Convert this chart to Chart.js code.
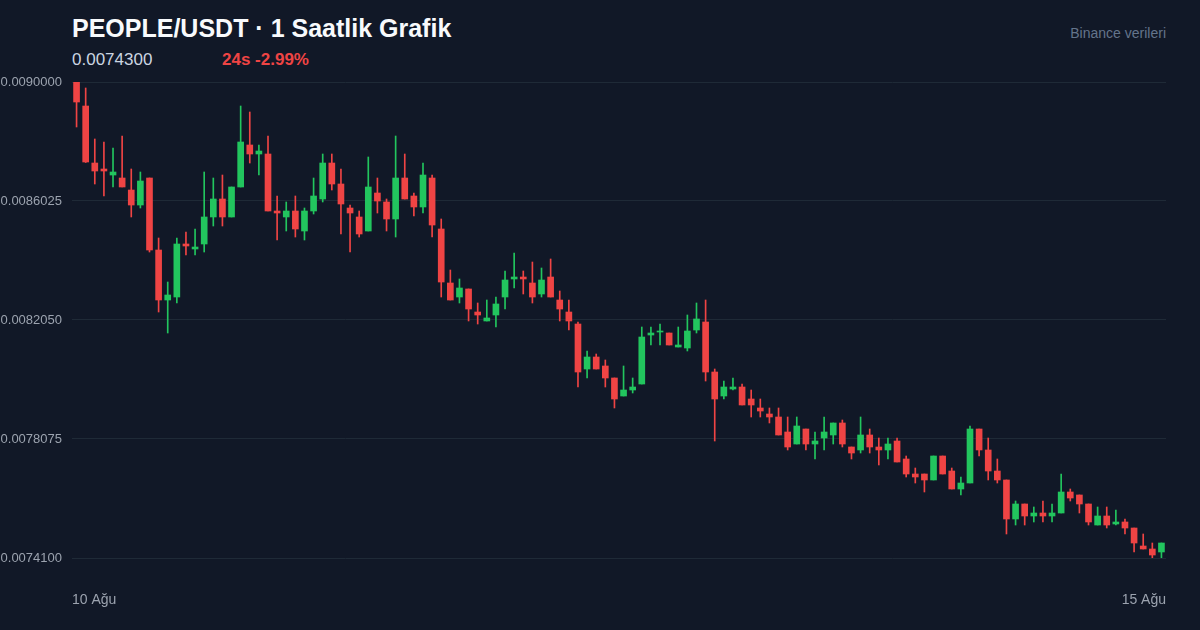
<!DOCTYPE html>
<html>
<head>
<meta charset="utf-8">
<script src="https://cdn.jsdelivr.net/npm/chart.js@4.4.1/dist/chart.umd.min.js"></script>
<style>
  html, body { margin: 0; padding: 0; background: #111827; }
  body { width: 1200px; height: 630px; position: relative; overflow: hidden;
         font-family: "Liberation Sans", Arial, Helvetica, sans-serif; }
  .title { position: absolute; left: 72px; top: 16px; font-size: 25px; line-height: 25px;
           font-weight: bold; color: #f8fafc; white-space: nowrap; }
  .price { position: absolute; left: 72px; top: 51px; font-size: 17px; line-height: 17px;
           color: #cbd5e1; white-space: nowrap; }
  .change { position: absolute; left: 222px; top: 51px; font-size: 17px; line-height: 17px;
            font-weight: bold; color: #ef4444; white-space: nowrap; }
  .source { position: absolute; right: 34px; top: 26px; font-size: 14px; line-height: 14px;
            color: #64748b; white-space: nowrap; }
  canvas { position: absolute; left: 0; top: 0; }
</style>
</head>
<body>
<div class="title">PEOPLE/USDT · 1 Saatlik Grafik</div>
<div class="price">0.0074300</div>
<div class="change">24s -2.99%</div>
<div class="source">Binance verileri</div>
<canvas id="candles" width="1200" height="630"></canvas>
<script>
// hourly candles, 10 Ağu -> 15 Ağu
const openP = [
  0.0090000, 0.0089198, 0.0087294, 0.0087094, 0.0086893, 0.0086793, 0.0086392, 0.0085891, 0.0086793, 0.0084388,
  0.0082718, 0.0082818, 0.0084589, 0.0084422, 0.0084589, 0.0085491, 0.0086092, 0.0085491, 0.0086493, 0.0087896,
  0.0087595, 0.0087595, 0.0085691, 0.0085491, 0.0085691, 0.0085023, 0.0085691, 0.0086092, 0.0087294, 0.0086593,
  0.0085791, 0.0085491, 0.0085023, 0.0086292, 0.0085992, 0.0085424, 0.0086793, 0.0086192, 0.0085825, 0.0086793,
  0.0085090, 0.0083286, 0.0082818, 0.0083086, 0.0082317, 0.0082017, 0.0082217, 0.0082818, 0.0083420, 0.0083486,
  0.0083286, 0.0082919, 0.0083486, 0.0082718, 0.0082317, 0.0081916, 0.0080413, 0.0080814, 0.0080514, 0.0080113,
  0.0079511, 0.0079712, 0.0079912, 0.0081549, 0.0081649, 0.0081616, 0.0081148, 0.0081115, 0.0081716, 0.0081983,
  0.0080313, 0.0079511, 0.0079745, 0.0079812, 0.0079411, 0.0079111, 0.0078910, 0.0078810, 0.0078309, 0.0077908,
  0.0078409, 0.0077908, 0.0078108, 0.0078209, 0.0078610, 0.0077808, 0.0077708, 0.0078209, 0.0077808, 0.0077708,
  0.0078008, 0.0077407, 0.0076906, 0.0076906, 0.0076706, 0.0077507, 0.0077006, 0.0076405, 0.0076605, 0.0078409,
  0.0077708, 0.0077006, 0.0076706, 0.0075403, 0.0075904, 0.0075503, 0.0075603, 0.0075503, 0.0075603, 0.0076305,
  0.0076205, 0.0075904, 0.0075202, 0.0075503, 0.0075236, 0.0075303, 0.0075102, 0.0074501, 0.0074401, 0.0074301
];
const highP = [
  0.0090000, 0.0089800, 0.0088096, 0.0087996, 0.0087795, 0.0088196, 0.0087094, 0.0086994, 0.0086793, 0.0084789,
  0.0083319, 0.0084789, 0.0084990, 0.0085090, 0.0086994, 0.0086793, 0.0086893, 0.0086493, 0.0089198, 0.0088998,
  0.0087896, 0.0088196, 0.0086192, 0.0085992, 0.0086192, 0.0085791, 0.0086793, 0.0087595, 0.0087595, 0.0087094,
  0.0085891, 0.0085691, 0.0087495, 0.0086793, 0.0086092, 0.0088196, 0.0087595, 0.0086292, 0.0087294, 0.0086893,
  0.0085424, 0.0083720, 0.0083420, 0.0083086, 0.0082618, 0.0082718, 0.0082818, 0.0083687, 0.0084288, 0.0083687,
  0.0083987, 0.0083787, 0.0084088, 0.0083019, 0.0082718, 0.0081983, 0.0081015, 0.0080914, 0.0080714, 0.0080113,
  0.0080514, 0.0080113, 0.0081816, 0.0081816, 0.0081916, 0.0081616, 0.0081816, 0.0082217, 0.0082618, 0.0082718,
  0.0080413, 0.0080012, 0.0080113, 0.0079912, 0.0079712, 0.0079411, 0.0079111, 0.0079111, 0.0078810, 0.0078810,
  0.0078409, 0.0078309, 0.0078810, 0.0078610, 0.0078710, 0.0077808, 0.0078810, 0.0078409, 0.0078108, 0.0078108,
  0.0078108, 0.0077507, 0.0077106, 0.0076906, 0.0077507, 0.0077507, 0.0077106, 0.0076806, 0.0078509, 0.0078409,
  0.0078108, 0.0077407, 0.0076706, 0.0076004, 0.0075904, 0.0075804, 0.0076004, 0.0075904, 0.0076906, 0.0076405,
  0.0076205, 0.0075904, 0.0075804, 0.0075804, 0.0075703, 0.0075403, 0.0075102, 0.0074902, 0.0074601, 0.0074601
];
const lowP = [
  0.0088497, 0.0087311, 0.0086593, 0.0086192, 0.0086493, 0.0086493, 0.0085491, 0.0085791, 0.0084321, 0.0082317,
  0.0081616, 0.0082618, 0.0084221, 0.0084221, 0.0084321, 0.0085190, 0.0085190, 0.0085491, 0.0086493, 0.0087294,
  0.0086893, 0.0085691, 0.0084722, 0.0085023, 0.0084822, 0.0084722, 0.0085591, 0.0085992, 0.0086392, 0.0084923,
  0.0084321, 0.0084822, 0.0085023, 0.0085624, 0.0085023, 0.0084822, 0.0086092, 0.0085524, 0.0085624, 0.0084822,
  0.0082818, 0.0082718, 0.0082618, 0.0082017, 0.0081916, 0.0082017, 0.0081816, 0.0082417, 0.0083119, 0.0082919,
  0.0082618, 0.0082818, 0.0082818, 0.0082017, 0.0081716, 0.0079812, 0.0080113, 0.0080413, 0.0079812, 0.0079111,
  0.0079511, 0.0079612, 0.0079912, 0.0081215, 0.0081215, 0.0081215, 0.0081148, 0.0081015, 0.0081616, 0.0080012,
  0.0078008, 0.0079411, 0.0079712, 0.0079211, 0.0078810, 0.0078810, 0.0078610, 0.0078209, 0.0077708, 0.0077908,
  0.0077708, 0.0077407, 0.0077708, 0.0077908, 0.0077808, 0.0077407, 0.0077607, 0.0077607, 0.0077207, 0.0077407,
  0.0077307, 0.0076806, 0.0076605, 0.0076305, 0.0076706, 0.0076906, 0.0076405, 0.0076205, 0.0076605, 0.0077507,
  0.0076706, 0.0076605, 0.0074902, 0.0075202, 0.0075202, 0.0075303, 0.0075303, 0.0075303, 0.0075603, 0.0076004,
  0.0075603, 0.0075202, 0.0075202, 0.0075102, 0.0075202, 0.0074902, 0.0074301, 0.0074401, 0.0074100, 0.0074100
];
const closeP = [
  0.0089332, 0.0087328, 0.0087027, 0.0087027, 0.0086994, 0.0086493, 0.0085891, 0.0086693, 0.0084388, 0.0082718,
  0.0082885, 0.0084589, 0.0084522, 0.0084488, 0.0085491, 0.0086092, 0.0085491, 0.0086493, 0.0087996, 0.0087595,
  0.0087695, 0.0085691, 0.0085624, 0.0085691, 0.0085090, 0.0085691, 0.0086192, 0.0087294, 0.0086593, 0.0085925,
  0.0085624, 0.0084923, 0.0086493, 0.0086025, 0.0085424, 0.0086793, 0.0086092, 0.0085825, 0.0086893, 0.0085223,
  0.0083319, 0.0082718, 0.0083119, 0.0082417, 0.0082217, 0.0082117, 0.0082585, 0.0083386, 0.0083486, 0.0083420,
  0.0082818, 0.0083386, 0.0082818, 0.0082417, 0.0082017, 0.0080313, 0.0080814, 0.0080413, 0.0080113, 0.0079411,
  0.0079712, 0.0079812, 0.0081482, 0.0081616, 0.0081683, 0.0081215, 0.0081215, 0.0081683, 0.0082084, 0.0080313,
  0.0079411, 0.0079812, 0.0079812, 0.0079211, 0.0079211, 0.0079010, 0.0078810, 0.0078209, 0.0077808, 0.0078509,
  0.0077908, 0.0078008, 0.0078309, 0.0078610, 0.0077908, 0.0077607, 0.0078209, 0.0077808, 0.0077708, 0.0077908,
  0.0077307, 0.0076906, 0.0076806, 0.0076706, 0.0077507, 0.0076906, 0.0076405, 0.0076605, 0.0078409, 0.0077708,
  0.0077006, 0.0076706, 0.0075403, 0.0075904, 0.0075503, 0.0075603, 0.0075503, 0.0075603, 0.0076305, 0.0076104,
  0.0075904, 0.0075303, 0.0075503, 0.0075202, 0.0075303, 0.0075102, 0.0074601, 0.0074401, 0.0074200, 0.0074601
];
const priceTicks = [0.0074100, 0.0078075, 0.0082050, 0.0086025, 0.0090000];
const dateLabels = ['10 Ağu', '15 Ağu'];

const UP = '#22c55e';
const DOWN = '#ef4444';
const candleColor = (ctx) => closeP[ctx.dataIndex] >= openP[ctx.dataIndex] ? UP : DOWN;

const bodies = openP.map((o, i) => ({ x: i, y: [o, closeP[i]] }));
const wicks = lowP.map((l, i) => ({ x: i, y: [l, highP[i]] }));

new Chart(document.getElementById('candles'), {
  type: 'bar',
  data: {
    datasets: [
      { data: bodies, backgroundColor: candleColor, barThickness: 6, grouped: false, minBarLength: 1, borderWidth: 0 },
      { data: wicks, backgroundColor: candleColor, barThickness: 1, grouped: false, borderWidth: 0 }
    ]
  },
  options: {
    responsive: false,
    animation: false,
    devicePixelRatio: 1,
    layout: { padding: { top: 82, right: 34, bottom: 0, left: 0 } },
    plugins: { legend: { display: false }, tooltip: { enabled: false } },
    scales: {
      x: {
        type: 'linear',
        min: -0.5,
        max: openP.length - 0.5,
        offset: false,
        grid: { display: false },
        border: { display: false },
        afterBuildTicks: (axis) => { axis.ticks = [{ value: -0.5 }, { value: openP.length - 0.5 }]; },
        afterFit: (axis) => { axis.height = 72; },
        ticks: {
          autoSkip: false,
          maxRotation: 0,
          align: 'inner',
          padding: 26,
          color: '#9ca3af',
          font: { family: '"Liberation Sans", Arial, sans-serif', size: 14 },
          callback: (v, i) => dateLabels[i]
        }
      },
      y: {
        min: priceTicks[0],
        max: priceTicks[priceTicks.length - 1],
        grid: { color: '#1f2a37', lineWidth: 1, drawTicks: false },
        border: { display: false },
        afterBuildTicks: (axis) => { axis.ticks = priceTicks.map(v => ({ value: v })); },
        afterFit: (axis) => { axis.width = 72; },
        ticks: {
          padding: 10,
          color: '#9ca3af',
          font: { family: '"Liberation Sans", Arial, sans-serif', size: 13 },
          callback: (v) => Number(v).toFixed(7)
        }
      }
    }
  }
});
</script>
</body>
</html>
